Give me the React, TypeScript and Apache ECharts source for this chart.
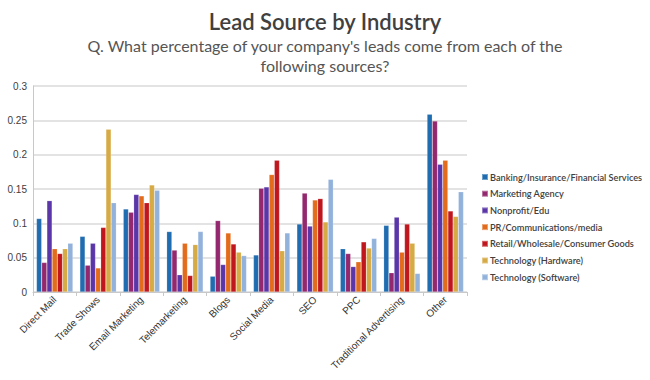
import React, { useEffect, useRef } from "react";
import * as echarts from "echarts";

const categories = ["Direct Mail", "Trade Shows", "Email Marketing", "Telemarketing", "Blogs", "Social Media", "SEO", "PPC", "Traditional Advertising", "Other"];
const seriesNames = [
  "Banking/Insurance/Financial Services",
  "Marketing Agency",
  "Nonprofit/Edu",
  "PR/Communications/media",
  "Retail/Wholesale/Consumer Goods",
  "Technology (Hardware)",
  "Technology (Software)",
];
const banking = [0.107, 0.081, 0.121, 0.088, 0.023, 0.054, 0.099, 0.063, 0.097, 0.259];
const marketing = [0.043, 0.039, 0.116, 0.061, 0.104, 0.151, 0.144, 0.056, 0.028, 0.249];
const nonprofit = [0.133, 0.071, 0.142, 0.025, 0.040, 0.153, 0.096, 0.037, 0.109, 0.186];
const pr = [0.063, 0.035, 0.140, 0.071, 0.086, 0.171, 0.134, 0.044, 0.058, 0.192];
const retail = [0.056, 0.094, 0.130, 0.024, 0.070, 0.192, 0.136, 0.073, 0.099, 0.118];
const techHardware = [0.063, 0.237, 0.156, 0.069, 0.058, 0.060, 0.102, 0.064, 0.071, 0.110];
const techSoftware = [0.071, 0.130, 0.148, 0.088, 0.053, 0.086, 0.164, 0.078, 0.027, 0.146];
const yTicks = [0, 0.05, 0.1, 0.15, 0.2, 0.25, 0.3];
const colors = ["#1f6cb0", "#93286f", "#5a36a8", "#e36c1c", "#c0161e", "#d6aa44", "#92b2dc"];

const titleText = "Lead Source by Industry";
const subtitleLines = ["Q. What percentage of your company's leads come from each of the", "following sources?"];

const allValues = [banking, marketing, nonprofit, pr, retail, techHardware, techSoftware];

export default function App() {
  const ref = useRef<HTMLDivElement>(null);
  useEffect(() => {
    if (!ref.current) return;
    const chart = echarts.init(ref.current, undefined, { renderer: "svg" });
    chart.setOption({
      animation: false,
      backgroundColor: "#ffffff",
      color: colors,
      graphic: [
        {
          type: "text",
          x: 325,
          y: 21,
          style: {
            text: titleText,
            x: 0,
            y: 0,
            align: "center",
            verticalAlign: "middle",
            fontFamily: "Lato",
            fontSize: 22,
            fontWeight: 600,
            fill: "#404040",
          },
        },
        ...subtitleLines.map((line, i) => ({
          type: "text",
          x: 325,
          y: 45 + i * 20,
          style: {
            text: line,
            align: "center",
            verticalAlign: "middle",
            fontFamily: "Lato",
            fontSize: 16,
            fontWeight: 400,
            fill: "#555555",
          },
        })),
      ],
      legend: {
        orient: "vertical",
        left: 476,
        top: 166,
        itemWidth: 6,
        itemHeight: 6,
        itemGap: 4.7,
        icon: "rect",
        data: seriesNames,
        textStyle: { fontFamily: "Lato", fontSize: 9.2, fontWeight: 600, color: "#404040", lineHeight: 12, padding: [0, 0, 0, -3] },
      },
      grid: { left: 33, right: 183, top: 86, bottom: 88 },
      xAxis: {
        type: "category",
        data: categories,
        axisLine: { lineStyle: { color: "#c8c8c8", width: 1 } },
        axisTick: { show: true, alignWithLabel: false, length: 4, lineStyle: { color: "#c8c8c8" } },
        axisLabel: { rotate: 45, fontFamily: "Liberation Sans", fontSize: 10, color: "#333333", margin: 6, interval: 0 },
      },
      yAxis: {
        type: "value",
        min: 0,
        max: 0.3,
        interval: 0.05,
        axisLine: { show: true, lineStyle: { color: "#c8c8c8" } },
        axisTick: { show: false },
        splitLine: { lineStyle: { color: "#dadada", width: 1.5 } },
        axisLabel: {
          fontFamily: "Liberation Sans",
          fontSize: 10,
          color: "#404040",
          margin: 6,
          formatter: (v: number) => {
            const t = yTicks.find((x) => Math.abs(x - v) < 1e-9);
            return t === undefined ? "" : String(+t.toFixed(2));
          },
        },
      },
      series: seriesNames.map((name, i) => ({
        name,
        type: "bar",
        data: allValues[i],
        barGap: "0%",
        barCategoryGap: "16%",
        itemStyle: { color: colors[i], borderColor: "rgba(255,255,255,0.35)", borderWidth: 0.5 },
      })),
    });
    return () => chart.dispose();
  }, []);
  return <div ref={ref} style={{ width: 650, height: 380, position: "absolute", left: 0, top: 0 }} />;
}
